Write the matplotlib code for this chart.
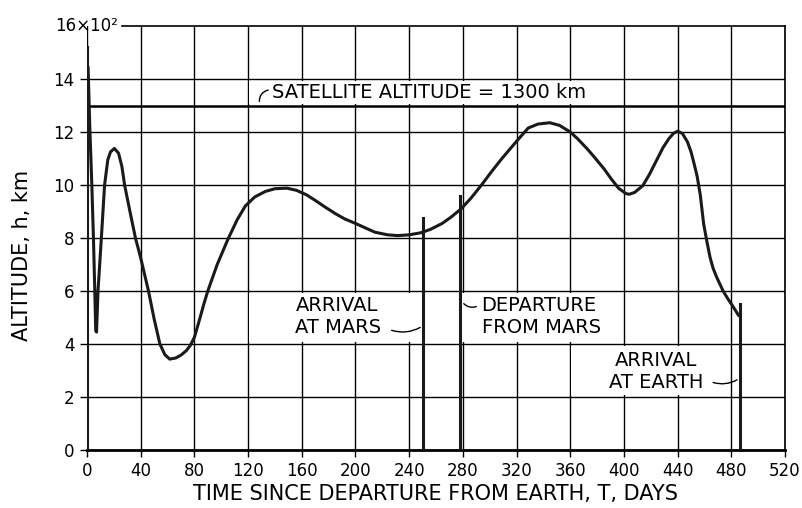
import matplotlib
matplotlib.use("Agg")
import matplotlib.pyplot as plt
from matplotlib.patches import Rectangle
from matplotlib.transforms import blended_transform_factory

plt.rcParams['font.family'] = ['DejaVu Sans']

# ---- data ----
traj_T = [0.8, 2.2, 3.6, 4.8, 5.8, 6.5, 7.1, 8.2, 10.7, 13.1, 15.5, 17.5, 20.4,
          23.5, 26.0, 28.0, 32.0, 36.1, 40.0, 45.8, 50.0, 54.3, 58.0, 61.6, 66.0,
          70.0, 74.0, 77.0, 80.0, 84.0, 87.0, 90.0, 97.0, 105.4, 112.0, 118.0,
          125.0, 133.0, 140.0, 148.9, 156.0, 163.5, 170.0, 177.0, 185.0, 192.0,
          200.0, 214.4, 224.0, 231.6, 240.0, 249.0, 256.0, 264.6, 271.0, 278.7,
          286.0, 293.9, 301.0, 308.8, 320.0, 328.7, 336.0, 344.8, 352.0, 360.0,
          365.4, 372.9, 378.0, 385.0, 391.0, 396.0, 401.3, 404.0, 408.0, 414.0,
          419.0, 424.5, 429.0, 433.5, 437.0, 440.0, 443.5, 447.3, 450.0, 452.1,
          454.5, 456.9, 459.4, 461.8, 464.2, 466.5, 469.1, 473.9, 477.5, 481.2,
          485.5]
traj_h = [14.45, 12.0, 10.0, 8.0, 6.0, 4.5, 4.45, 6.0, 8.0, 10.0, 10.95, 11.25, 11.38,
          11.2, 10.7, 10.0, 9.0, 8.0, 7.25, 6.0, 4.95, 4.0, 3.6, 3.43, 3.47,
          3.58, 3.75, 3.95, 4.25, 4.95, 5.5, 6.0, 7.0, 8.0, 8.7, 9.21,
          9.55, 9.76, 9.86, 9.88, 9.8, 9.63, 9.42, 9.18, 8.92, 8.72,
          8.55, 8.22, 8.12, 8.09, 8.12, 8.2, 8.33, 8.55, 8.78, 9.1,
          9.5, 10.0, 10.48, 10.98, 11.65, 12.15, 12.3, 12.35, 12.25, 12.0,
          11.75, 11.35, 11.05, 10.62, 10.2, 9.88, 9.68, 9.65, 9.72, 9.97,
          10.4, 10.95, 11.4, 11.75, 11.95, 12.03, 11.95, 11.63, 11.25, 10.84,
          10.34, 9.62, 8.53, 7.87, 7.26, 6.85, 6.52, 6.0, 5.7, 5.42,
          5.07]

# event markers (vertical bars): departure Earth, arrival Mars, departure Mars, arrival Earth
event_T = [0.0, 250.4, 278.0, 486.7]
event_h = [15.2, 8.75, 9.6, 5.5]

satellite_alt = 13.0  # x100 km

x_ticks = [0, 40, 80, 120, 160, 200, 240, 280, 320, 360, 400, 440, 480, 520]
y_ticks = [0, 2, 4, 6, 8, 10, 12, 14]

# ---- figure ----
fig = plt.figure(figsize=(8.03, 5.08), dpi=100)
ax = fig.add_axes([87/803, 1-450/508, 698/803, 424/508])
ax.set_xlim(0, 520)
ax.set_ylim(0, 16)

ax.set_xticks(x_ticks)
ax.set_yticks(y_ticks)
ax.tick_params(axis='both', direction='out', length=5, width=1.0,
               labelsize=12, color='black', pad=4)
ax.grid(True, color='black', linewidth=1.0)
ax.set_axisbelow(True)

for s in ['left', 'top']:
    ax.spines[s].set_visible(False)
ax.spines['bottom'].set_linewidth(2.0)
ax.spines['right'].set_linewidth(1.2)

# top border (starts right of the 16x10^2 label)
ax.plot([26, 520], [16, 16], color='black', lw=1.2, clip_on=False, zorder=2)

# label at top of y axis
trans = blended_transform_factory(ax.transAxes, ax.transData)
ax.text(-0.046, 16, "16×10²", transform=trans, ha='left', va='center',
        fontsize=12)

# white label boxes (interrupting grid)
boxes = [(120, 13, 400, 14), (120, 4, 250.4, 6), (278, 4, 400, 6), (360, 2, 480, 4)]
for x0, y0, x1, y1 in boxes:
    ax.add_patch(Rectangle((x0 + 0.8, y0 + 0.06), (x1 - x0) - 1.6, (y1 - y0) - 0.12,
                           facecolor='white', edgecolor='none', zorder=1))

# satellite altitude line
ax.plot([0, 520], [satellite_alt, satellite_alt], color='black', lw=1.8, zorder=2)

# trajectory curve
ax.plot(traj_T, traj_h, color='#1a1a1a', lw=2.2, zorder=3,
        solid_joinstyle='round', solid_capstyle='round')

# event bars
for t, h in zip(event_T, event_h):
    ax.plot([t, t], [0, h], color='#1a1a1a', lw=2.2, zorder=3)

# text labels
fs = 14
ax.text(137.8, 13.5, "SATELLITE ALTITUDE = 1300 km", fontsize=fs,
        ha='left', va='center', zorder=4)
ax.annotate("", xy=(137.0, 13.6), xytext=(128.5, 13.05),
            arrowprops=dict(arrowstyle='-', lw=1.0, color='black',
                            connectionstyle='arc3,rad=-0.5'))

ax.text(155.3, 5.03, "ARRIVAL\nAT MARS", fontsize=fs, ha='left', va='center',
        zorder=4)
ax.annotate("", xy=(250.0, 4.68), xytext=(225.0, 4.55),
            arrowprops=dict(arrowstyle='-', lw=1.0, color='black',
                            connectionstyle='arc3,rad=0.25'))

ax.text(293.9, 5.03, "DEPARTURE\nFROM MARS", fontsize=fs, ha='left', va='center',
        zorder=4)
ax.annotate("", xy=(292.0, 5.45), xytext=(279.3, 5.6),
            arrowprops=dict(arrowstyle='-', lw=1.0, color='black',
                            connectionstyle='arc3,rad=0.4'))

ax.text(424.2, 2.95, "ARRIVAL\nAT EARTH", fontsize=fs, ha='center', va='center',
        zorder=4)
ax.annotate("", xy=(486.0, 2.7), xytext=(464.5, 2.58),
            arrowprops=dict(arrowstyle='-', lw=1.0, color='black',
                            connectionstyle='arc3,rad=0.25'))

ax.set_xlabel("TIME SINCE DEPARTURE FROM EARTH, T, DAYS", fontsize=15)
ax.set_ylabel("ALTITUDE, h, km", fontsize=15)
ax.xaxis.set_label_coords(0.4986, -0.080)
ax.yaxis.set_label_coords(-0.079, 0.46)

fig.savefig("out.png", dpi=100)
